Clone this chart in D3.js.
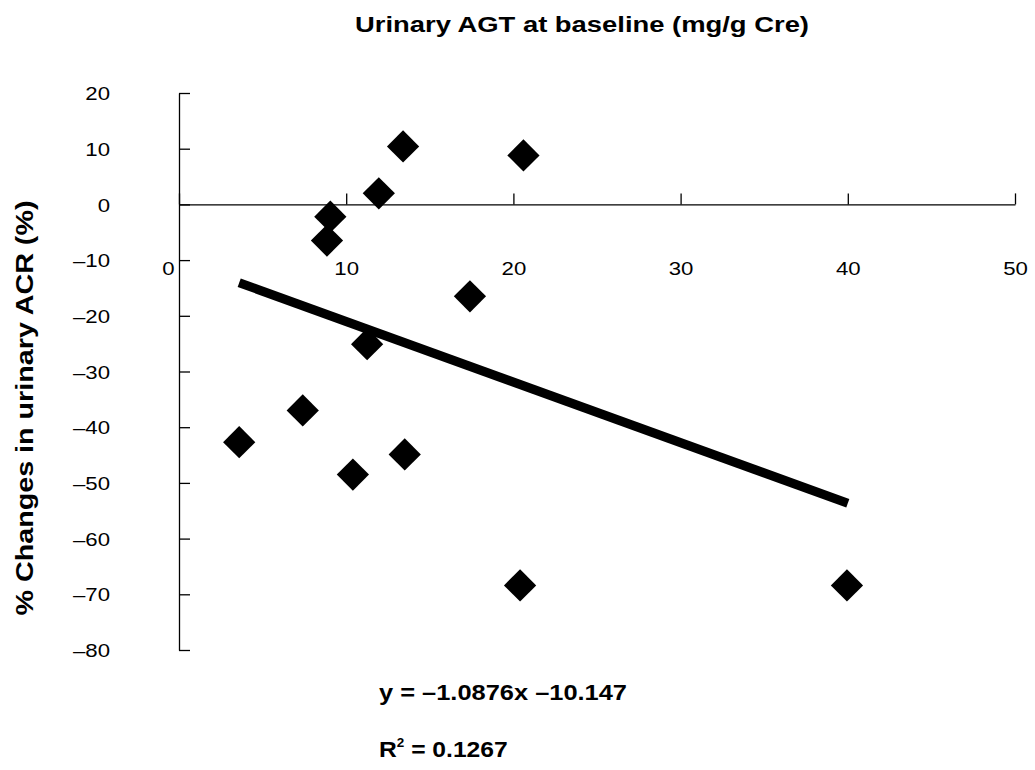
<!DOCTYPE html>
<html>
<head>
<meta charset="utf-8">
<script src="https://cdn.jsdelivr.net/npm/d3@7"></script>
<style>
body { margin: 0; background: #fff; }
text { font-family: "Liberation Sans", Arial, sans-serif; fill: #000; }
</style>
</head>
<body>
<svg id="svg" width="1035" height="770"></svg>
<script>
// data
var agtValues = [3.6, 7.4, 8.85, 9.05, 10.4, 11.25, 11.95, 13.4, 13.5, 17.4, 20.4, 20.6, 39.95];
var acrValues = [-42.7, -37.0, -6.5, -2.2, -48.5, -25.1, 2.0, 10.4, -44.9, -16.5, -68.4, 8.8, -68.4];
var xTicks = [0, 10, 20, 30, 40, 50];
var yTicks = [20, 10, 0, -10, -20, -30, -40, -50, -60, -70, -80];
var fitSlope = -1.0876, fitIntercept = -10.147;
var fitRange = [3.6, 40];

var svg = d3.select('#svg');

var x = d3.scaleLinear().domain([0, 50]).range([179, 1015]);
var y = d3.scaleLinear().domain([-80, 20]).range([650, 93]);

// the scanned figure has its type a bit wider than normal
function stretch(sel, k) {
    sel.each(function() {
        var w = this.getComputedTextLength();
        d3.select(this)
            .attr('textLength', w * k)
            .attr('lengthAdjust', 'spacingAndGlyphs');
    });
}

// y axis, ticks pointing inward
svg.append('g')
    .attr('transform', 'translate(' + x(0) + ',0)')
    .call(d3.axisLeft(y)
        .tickValues(yTicks)
        .tickSizeInner(-11)
        .tickSizeOuter(0)
        .tickPadding(69)
        .tickFormat(function(d) { return d < 0 ? '\u2013' + Math.abs(d) : d; }))
    .call(function(g) {
        g.select('.domain').attr('stroke', '#000').attr('stroke-width', 1.3);
        g.selectAll('.tick line').attr('stroke', '#000').attr('stroke-width', 1.3);
        g.selectAll('.tick text').attr('font-size', 18.5).attr('fill', '#000')
            .attr('dy', '0.36em')
            .call(stretch, 1.2);
    });

// x axis sits on y = 0, ticks point up, labels well below
svg.append('g')
    .attr('transform', 'translate(0,' + y(0) + ')')
    .call(d3.axisBottom(x)
        .tickValues(xTicks)
        .tickSizeInner(-11)
        .tickSizeOuter(0)
        .tickPadding(57))
    .call(function(g) {
        g.select('.domain').attr('stroke', '#000').attr('stroke-width', 1.3);
        g.selectAll('.tick line').attr('stroke', '#000').attr('stroke-width', 1.3);
        g.selectAll('.tick text').attr('font-size', 18.5).attr('fill', '#000')
            .call(stretch, 1.2);
        g.selectAll('.tick').filter(function(d) { return d === 0; })
            .select('text').attr('x', -11);
    });

// regression line
var fit = fitRange.map(function(v) { return [v, fitSlope * v + fitIntercept]; });
svg.append('path')
    .datum(fit)
    .attr('d', d3.line()
        .x(function(d) { return x(d[0]); })
        .y(function(d) { return y(d[1]); }))
    .attr('fill', 'none')
    .attr('stroke', '#000')
    .attr('stroke-width', 9);

// diamonds
var diamond = d3.symbol().type(d3.symbolSquare).size(520);
svg.append('g')
    .selectAll('path')
    .data(d3.range(agtValues.length))
    .enter()
    .append('path')
    .attr('d', diamond)
    .attr('transform', function(i) {
        return 'translate(' + x(agtValues[i]) + ',' + y(acrValues[i]) + ') rotate(45)';
    })
    .attr('fill', '#000');

// titles
svg.append('text')
    .attr('x', 582)
    .attr('y', 32)
    .attr('text-anchor', 'middle')
    .attr('font-size', 22)
    .attr('font-weight', 'bold')
    .attr('textLength', 454)
    .attr('lengthAdjust', 'spacingAndGlyphs')
    .text('Urinary AGT at baseline (mg/g Cre)');

svg.append('text')
    .attr('transform', 'translate(33,408) rotate(-90)')
    .attr('text-anchor', 'middle')
    .attr('font-size', 23)
    .attr('font-weight', 'bold')
    .attr('textLength', 415)
    .attr('lengthAdjust', 'spacingAndGlyphs')
    .text('% Changes in urinary ACR (%)');

// equation
svg.append('text')
    .attr('x', 379)
    .attr('y', 700)
    .attr('font-size', 22)
    .attr('font-weight', 'bold')
    .attr('textLength', 248)
    .attr('lengthAdjust', 'spacingAndGlyphs')
    .text('y = \u20131.0876x \u201310.147');

var r2 = svg.append('text')
    .attr('x', 379)
    .attr('y', 757)
    .attr('font-size', 22)
    .attr('font-weight', 'bold');
r2.append('tspan').text('R');
r2.append('tspan').attr('font-size', 12).attr('dy', -10).text('2');
r2.append('tspan').attr('dy', 10).text(' = 0.1267');
r2.call(stretch, 1.12);
</script>
</body>
</html>
